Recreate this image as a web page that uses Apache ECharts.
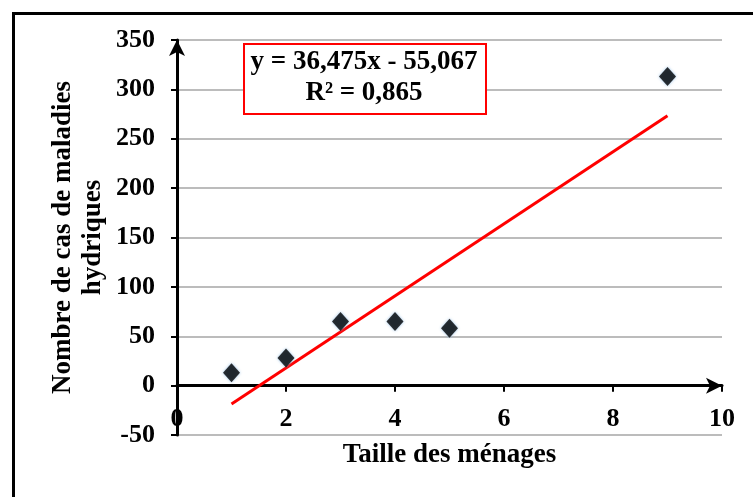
<!DOCTYPE html>
<html>
<head>
<meta charset="utf-8">
<script src="https://cdn.jsdelivr.net/npm/echarts@6/dist/echarts.min.js"></script>
<style>
html,body{margin:0;padding:0;background:#fff;}
#chart{width:753px;height:497px;}
</style>
</head>
<body>
<div id="chart"></div>
<script>
// Data
var householdSize = [1, 2, 3, 4, 5, 9];
var diseaseCases = [13, 28, 65, 65, 58, 313];
var trendX = [1, 9];
var trendY = [-18.6, 273.2];
var equationText = 'y = 36,475x - 55,067';
var r2Text = 'R² = 0,865';
var xTitle = 'Taille des ménages';
var yTitleLines = ['Nombre de cas de maladies', 'hydriques'];

var FONT = '"Liberation Serif", "Times New Roman", serif';

var chart = echarts.init(document.getElementById('chart'), null, { width: 753, height: 497 });
var pts = householdSize.map(function (x, i) { return [x, diseaseCases[i]]; });
var trend = trendX.map(function (x, i) { return [x, trendY[i]]; });

chart.setOption({
  animation: false,
  backgroundColor: '#fff',
  grid: { left: 177, right: 31, top: 40, bottom: 62, containLabel: false, outerBoundsMode: 'none' },
  xAxis: {
    type: 'value', min: 0, max: 10, interval: 2,
    axisLine: { onZero: true, lineStyle: { color: '#000', width: 3 }, symbol: ['none', 'arrow'], symbolSize: [12, 16], symbolOffset: [0, 0] },
    axisTick: { show: true, inside: false, length: 6, lineStyle: { color: '#000', width: 2 } },
    axisLabel: { color: '#000', fontFamily: FONT, fontWeight: 'bold', fontSize: 26, margin: -29 },
    splitLine: { show: false },
    name: xTitle, nameLocation: 'middle', nameGap: 7, nameMoveOverlap: false,
    nameTextStyle: { color: '#000', fontFamily: FONT, fontWeight: 'bold', fontSize: 27 }
  },
  yAxis: {
    type: 'value', min: -50, max: 350, interval: 50,
    axisLine: { onZero: false, lineStyle: { color: '#000', width: 3 }, symbol: ['none', 'arrow'], symbolSize: [12, 16], symbolOffset: [0, 0] },
    axisTick: { show: true, length: 6, lineStyle: { color: '#000', width: 2 } },
    axisLabel: { color: '#000', fontFamily: FONT, fontWeight: 'bold', fontSize: 26, margin: 22 },
    splitLine: { show: true, lineStyle: { color: '#a6a6a6', width: 1.5 } },
    name: yTitleLines.join('\n'), nameLocation: 'middle', nameGap: 69, nameRotate: 90, nameMoveOverlap: false,
    nameTextStyle: { color: '#000', fontFamily: FONT, fontWeight: 'bold', fontSize: 27, lineHeight: 30 }
  },
  series: [
    {
      type: 'line', data: trend, showSymbol: false, symbol: 'none',
      lineStyle: { color: '#ff0000', width: 3 }, z: 3
    },
    {
      type: 'scatter', data: pts, symbol: 'diamond', symbolSize: [17, 19],
      itemStyle: { color: '#000', shadowColor: '#7fb2e0', shadowBlur: 3 }, z: 4
    }
  ],
  graphic: [
    { type: 'rect', left: 11, top: 11, shape: { width: 800, height: 600 },
      style: { fill: 'none', stroke: '#000', lineWidth: 3 }, z: 10, silent: true },
    { type: 'rect', left: 243, top: 43, shape: { width: 242, height: 70 },
      style: { fill: '#fff', stroke: '#ff0000', lineWidth: 2 }, z: 10 },
    { type: 'text', x: 364, y: 62, z: 11,
      style: { text: equationText, fill: '#000', font: 'bold 27px ' + FONT, textAlign: 'center', textVerticalAlign: 'middle' } },
    { type: 'text', x: 364, y: 93, z: 11,
      style: { text: r2Text, fill: '#000', font: 'bold 27px ' + FONT, textAlign: 'center', textVerticalAlign: 'middle' } }
  ]
});
</script>
</body>
</html>
